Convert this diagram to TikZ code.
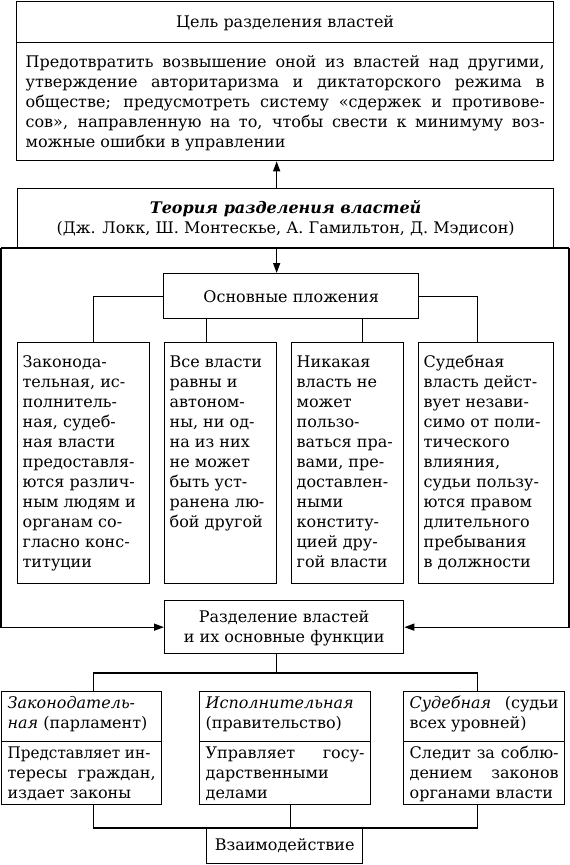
\documentclass[tikz,border=0pt]{standalone}
\usepackage{fontspec}
\usepackage{graphicx}
\setmainfont{DejaVu Serif}
\usetikzlibrary{arrows.meta}
\newcommand\fz{\fontsize{16}{20}\selectfont}
\newcommand\jl[1]{\makebox[\linewidth][s]{#1}}
\newcommand\jls[1]{\makebox[\linewidth][l]{\scalebox{0.95}[1]{#1}}}
\newcommand\Ll[1]{\mbox{#1}\\}
\newcommand\bxt[5]{\parbox[c][#2pt][t]{#1pt}{#3\vspace*{#4pt}\strut#5}}
\tikzset{
  bx/.style={draw, line width=1.3pt, inner xsep=6pt, inner ysep=0pt, anchor=north west, font=\fz},
  ln/.style={line width=1.3pt},
  ar/.style={line width=1.3pt, -{Triangle[length=10pt,width=7pt]}}
}
\begin{document}
\begin{tikzpicture}[x=1pt,y=-1pt]
\useasboundingbox (0,0) rectangle (570,865);
% goal
\node[bx] (goalt) at (16,1) {\bxt{525}{41}{\centering}{12}{Цель разделения властей}};
\node[bx, inner xsep=9pt] (goalb) at (16,42) {\bxt{519}{118}{}{11}{%
\jl{Предотвратить возвышение оной из властей над другими,}\\
\jl{утверждение авторитаризма и диктаторского режима в}\\
\jl{обществе; предусмотреть систему «сдержек и противове-}\\
\jl{сов», направленную на то, чтобы свести к минимуму воз-}\\
можные ошибки в управлении}};
% theory
\node[bx] (theory) at (17,188) {\bxt{524}{60}{\centering}{11}{{\bfseries\itshape Теория разделения властей}\\
(Дж. Локк, Ш. Монтескье, А. Гамильтон, Д. Мэдисон)}};
% principles
\node[bx] (osn) at (163,273) {\bxt{243}{45}{\centering}{15}{Основные пложения}};
\node[bx, inner xsep=5pt] (b1) at (17,342) {\bxt{122}{241}{\raggedright}{11}{%
\Ll{Законода-}\Ll{тельная, ис-}\Ll{полнитель-}\Ll{ная, судеб-}\Ll{ная власти}\Ll{предоставля-}\Ll{ются различ-}\Ll{ным людям и}\Ll{органам со-}\Ll{гласно конс-}\mbox{титуции}}};
\node[bx, inner xsep=5pt] (b2) at (164,342) {\bxt{102}{241}{\raggedright}{11}{%
\Ll{Все власти}\Ll{равны и}\Ll{автоном-}\Ll{ны, ни од-}\Ll{на из них}\Ll{не может}\Ll{быть уст-}\Ll{ранена лю-}\mbox{бой другой}}};
\node[bx, inner xsep=5pt] (b3) at (291,342) {\bxt{102}{241}{\raggedright}{11}{%
\Ll{Никакая}\Ll{власть не}\Ll{может}\Ll{пользо-}\Ll{ваться пра-}\Ll{вами, пре-}\Ll{доставлен-}\Ll{ными}\Ll{конститу-}\Ll{цией дру-}\mbox{гой власти}}};
\node[bx, inner xsep=5pt] (b4) at (418,342) {\bxt{125}{241}{\raggedright}{11}{%
\Ll{Судебная}\Ll{власть дейст-}\Ll{вует незави-}\Ll{симо от поли-}\Ll{тического}\Ll{влияния,}\Ll{судьи пользу-}\Ll{ются правом}\Ll{длительного}\Ll{пребывания}\mbox{в должности}}};
% separation
\node[bx] (razd) at (164,600) {\bxt{227}{53}{\centering}{8}{Разделение властей\\ и их основные функции}};
% branches
\node[bx] (ha) at (1,691) {\bxt{148}{50}{}{3}{\jl{\itshape Законодатель-}\\ \textit{ная} (парламент)}};
\node[bx] (ba) at (1,741) {\bxt{148}{63}{}{3}{\jls{Представляет ин-}\\ \jl{тересы граждан,}\\ издает законы}};
\node[bx] (hb) at (199,691) {\bxt{159}{50}{}{3}{\textit{Исполнительная}\\ (правительство)}};
\node[bx] (bb) at (199,741) {\bxt{159}{63}{}{3}{\jl{Управляет госу-}\\ дарственными\\ делами}};
\node[bx] (hc) at (403,691) {\bxt{149}{50}{}{3}{\jl{\textit{Судебная} (судьи}\\ всех уровней)}};
\node[bx] (bc) at (403,741) {\bxt{149}{63}{}{3}{\jl{Следит за соблю-}\\ \jl{дением законов}\\ органами власти}};
\node[bx] (vz) at (206,828) {\bxt{144}{35}{\centering}{8}{Взаимодействие}};
% frame
\coordinate (fl) at (1,248);
\coordinate (fr) at (569,248);
\coordinate (hy) at (0,673);
\draw[ln] (fl) -- (fr);
\draw[ar] (fl) |- (razd.west);
\draw[ar] (fr) |- (razd.east);
% arrows
\draw[ar] ([xshift=-9pt]theory.north) -- ([xshift=-9pt]theory.north |- goalb.south);
\draw[ar] ([xshift=-9pt]theory.south) -- ([xshift=-9pt]theory.south |- osn.north);
% principle branches
\draw[ln] (osn.west) -| ([xshift=10pt]b1.north);
\draw[ln] (osn.east) -| ([xshift=-8.5pt]b4.north);
\draw[ln] ([xshift=-14pt]b2.north |- osn.south) -- ([xshift=-14pt]b2.north);
\draw[ln] ([xshift=15pt]b3.north |- osn.south) -- ([xshift=15pt]b3.north);
% separation branches
\draw[ln] ([xshift=-7.5pt]razd.south) -- ([xshift=-7.5pt]razd.south |- hy);
\draw[ln] ([xshift=12pt]ha.north) |- ([xshift=-6.5pt]hc.north |- hy) -- ([xshift=-6.5pt]hc.north);
% interaction
\draw[ln] ([xshift=12pt]ba.south) |- ([xshift=-6.5pt]bc.south |- vz.north) -- ([xshift=-6.5pt]bc.south);
\draw[ln] ([xshift=5.5pt]bb.south) -- ([xshift=5.5pt]bb.south |- vz.north);
\end{tikzpicture}
\end{document}
